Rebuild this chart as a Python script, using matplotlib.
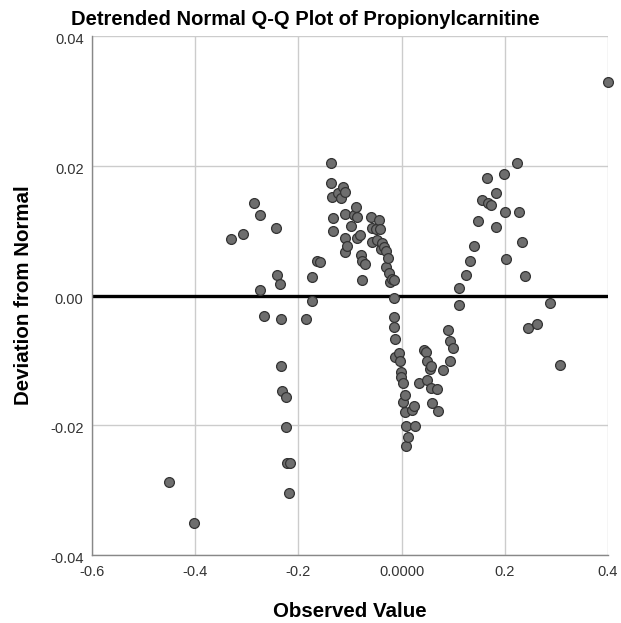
import numpy as np
import matplotlib
matplotlib.use('Agg')
import matplotlib.pyplot as plt
import matplotlib.transforms as mtransforms

plt.rcParams['font.family'] = ['Liberation Sans', 'DejaVu Sans']

observed = [
    -0.4502, -0.4025,
    -0.3295, -0.3075, -0.2862, -0.2746, -0.2739, -0.2668, -0.2442, -0.2422,
    -0.2358, -0.2345, -0.2345, -0.2312, -0.2248, -0.2235, -0.2229, -0.2171,
    -0.2184, -0.1860, -0.1731, -0.1731, -0.1634, -0.1583,
    -0.1376, -0.1360, -0.1344, -0.1337, -0.1324, -0.1234, -0.1182, -0.1137,
    -0.1105, -0.1105, -0.1099, -0.1099, -0.1053, -0.0975, -0.0924, -0.0879,
    -0.0859, -0.0859, -0.0808, -0.0795, -0.0762, -0.0762, -0.0717, -0.0601,
    -0.0568, -0.0568, -0.0504, -0.0471, -0.0440, -0.0426, -0.0407, -0.0374,
    -0.0342, -0.0310, -0.0310, -0.0258, -0.0246, -0.0227, -0.0180, -0.0149,
    -0.0149, -0.0149, -0.0149, -0.0130, -0.0130, -0.0052, -0.0033, -0.0019,
    -0.0006, 0.0026, 0.0026, 0.0065, 0.0065, 0.0078, 0.0090, 0.0129,
    0.0207, 0.0239, 0.0252, 0.0336, 0.0433, 0.0465, 0.0484, 0.0484,
    0.0549, 0.0562, 0.0575, 0.0594, 0.0691, 0.0704, 0.0801, 0.0898,
    0.0930, 0.0937, 0.1002, 0.1111, 0.1111, 0.1253, 0.1318, 0.1402,
    0.1486, 0.1564, 0.1661, 0.1673, 0.1738, 0.1822, 0.1835, 0.1983,
    0.1996, 0.2016, 0.2242, 0.2273, 0.2332, 0.2390, 0.2455, 0.2630,
    0.2868, 0.3068, 0.4000,
]
deviation = [
    -0.02879, -0.03502,
    0.00871, 0.00948, 0.01430, 0.01236, 0.00085, -0.00310, 0.01036, 0.00316,
    0.00177, -0.00367, -0.01082, -0.01472, -0.01569, -0.02027, -0.02587, -0.02577,
    -0.03040, -0.00362, 0.00290, -0.00085, 0.00537, 0.00521,
    0.02038, 0.01739, 0.01523, 0.01200, 0.01000, 0.01575, 0.01498, 0.01668,
    0.01256, 0.00891, 0.01600, 0.00675, 0.00763, 0.01071, 0.01241, 0.01369,
    0.01205, 0.00882, 0.00933, 0.00624, 0.00537, 0.00239, 0.00486, 0.01205,
    0.01036, 0.00829, 0.01020, 0.00856, 0.01164, 0.01020, 0.00712, 0.00804,
    0.00752, 0.00691, 0.00444, 0.00573, 0.00342, 0.00213, 0.00250, 0.00239,
    -0.00043, -0.00327, -0.00490, -0.00675, -0.00953, -0.00881, -0.01005, -0.01174,
    -0.01261, -0.01344, -0.01637, -0.01534, -0.01791, -0.02012, -0.02315, -0.02176,
    -0.01765, -0.01703, -0.02012, -0.01354, -0.00840, -0.00866, -0.01005, -0.01302,
    -0.01138, -0.01430, -0.01087, -0.01662, -0.01441, -0.01780, -0.01148, -0.00532,
    -0.00697, -0.01005, -0.00814, 0.00111, -0.00146, 0.00316, 0.00527, 0.00763,
    0.01153, 0.01472, 0.01816, 0.01430, 0.01390, 0.01585, 0.01061, 0.01873,
    0.01287, 0.00563, 0.02038, 0.01292, 0.00825, 0.00300, -0.00496, -0.00444,
    -0.00120, -0.01076, 0.03290,
]

xticks = [-0.6, -0.4, -0.2, 0.0, 0.2, 0.4]
xtick_labels = ['-0.6', '-0.4', '-0.2', '0.0000', '0.2', '0.4']
yticks = [-0.04, -0.02, 0.0, 0.02, 0.04]
ytick_labels = ['-0.04', '-0.02', '0.00', '0.02', '0.04']

fig = plt.figure(figsize=(6.21, 6.23), dpi=100)
ax = fig.add_axes([0.148, 0.109, 0.831, 0.833])

ax.set_xlim(-0.6, 0.4)
ax.set_ylim(-0.04, 0.04)
ax.set_xticks(xticks)
ax.set_xticklabels(xtick_labels)
ax.set_yticks(yticks)
ax.set_yticklabels(ytick_labels)
ax.tick_params(length=0, labelsize=10.5, colors='#333333')
ax.tick_params(axis='x', pad=7)
ax.tick_params(axis='y', pad=6)
# SPSS puts the y labels a touch below the gridline
shift = mtransforms.ScaledTranslation(0, -2.5 / 100, fig.dpi_scale_trans)
for lab in ax.get_yticklabels():
    lab.set_transform(lab.get_transform() + shift)

ax.grid(True, color='#cccccc', linewidth=1.0)
ax.set_axisbelow(True)

for s in ['top', 'right']:
    ax.spines[s].set_visible(False)
for s in ['left', 'bottom']:
    ax.spines[s].set_color('#888888')
    ax.spines[s].set_linewidth(1.0)

ax.axhline(0, color='black', linewidth=2.4, zorder=2)
ax.scatter(observed, deviation, s=50, facecolor='#6e6e6e', edgecolor='#333333',
           linewidth=0.9, zorder=3, clip_on=False)

ax.set_xlabel('Observed Value', fontsize=14.8, fontweight='bold', labelpad=17)
ax.set_ylabel('Deviation from Normal', fontsize=14.8, fontweight='bold', labelpad=12)
fig.text(0.491, 0.969, 'Detrended Normal Q-Q Plot of Propionylcarnitine',
         fontsize=14.5, fontweight='bold', ha='center', va='center')

fig.savefig('out.png', dpi=100)
